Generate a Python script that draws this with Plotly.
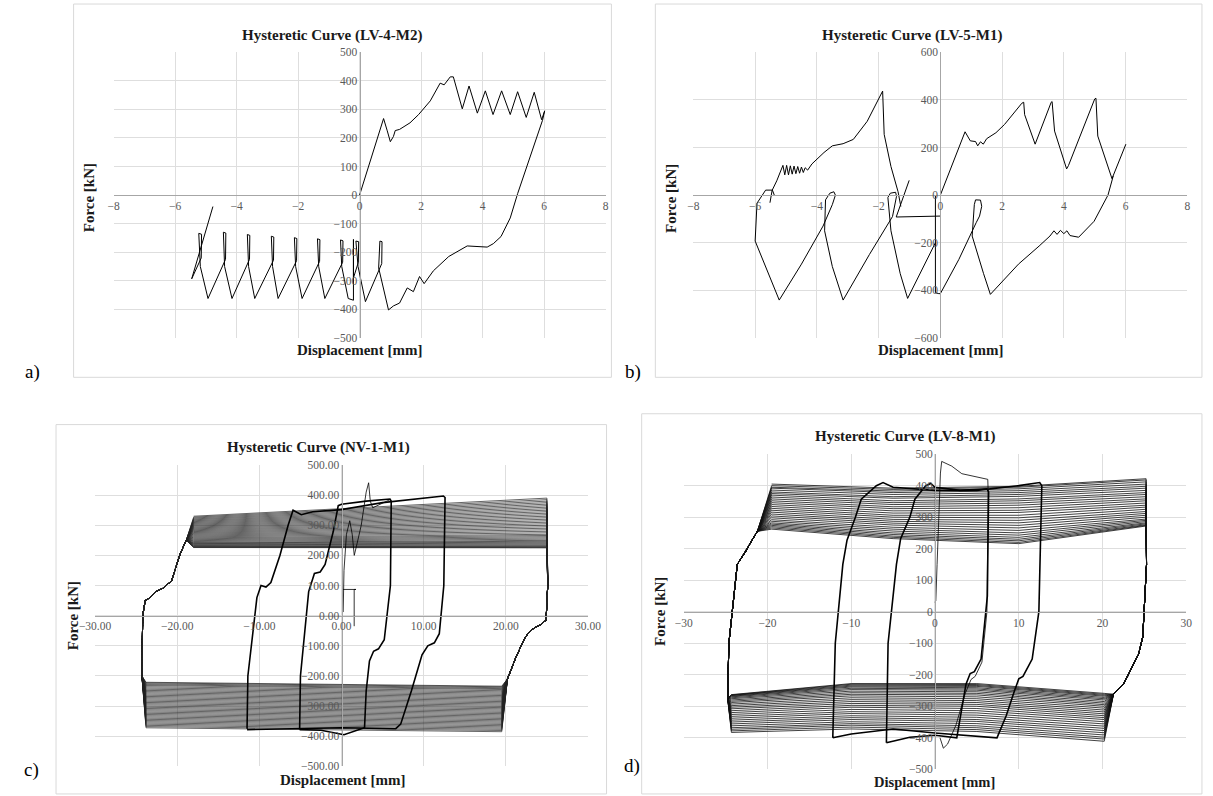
import plotly.graph_objects as go

# ======================= DATA =======================
# Panel a) LV-4 : displacement [mm], force [kN]
a_curve = [(0, 0), (0.3, 100), (0.78, 268), (0.9, 225), (1.0, 187), (1.1, 205), (1.16, 226), (1.3, 230),
           (1.64, 253), (1.92, 282), (2.3, 330), (2.62, 392), (2.75, 386), (2.95, 414), (3.05, 414),
           (3.34, 302), (3.56, 382), (3.83, 287), (4.09, 365), (4.34, 282), (4.62, 365), (4.9, 282),
           (5.14, 362), (5.42, 272), (5.68, 360), (5.92, 264), (6.02, 295),
           (5.95, 262), (5.6, 150), (5.3, 60), (5.14, 5), (4.9, -80), (4.75, -115), (4.6, -145),
           (4.35, -170), (4.15, -182), (3.5, -178), (2.9, -215), (2.4, -265), (2.1, -310), (1.95, -285),
           (1.75, -338), (1.55, -325), (1.3, -378), (1.1, -388), (0.94, -402),
           (0.62, -255), (0.66, -161), (0.73, -163), (0.72, -240), (0.19, -373),
           (-0.05, -250), (-0.12, -161), (-0.03, -163), (-0.04, -235), (-0.2, -290), (-0.2, -155), (-0.2, -368), (-0.37, -362),
           (-0.58, -250), (-0.62, -157), (-0.54, -160), (-0.55, -235), (-1.13, -362),
           (-1.33, -250), (-1.37, -153), (-1.29, -156), (-1.30, -232), (-1.87, -362),
           (-2.08, -250), (-2.12, -149), (-2.04, -152), (-2.05, -230), (-2.65, -362),
           (-2.83, -250), (-2.87, -144), (-2.79, -147), (-2.80, -228), (-3.41, -362),
           (-3.61, -250), (-3.65, -138), (-3.57, -141), (-3.58, -225), (-4.15, -362),
           (-4.39, -250), (-4.43, -130), (-4.35, -133), (-4.36, -225), (-4.93, -362),
           (-5.18, -250), (-5.23, -134), (-5.14, -137), (-5.15, -220), (-5.46, -293), (-4.77, -40)]

# Panel b) LV-5
b_load = [(0, 0), (0.8, 266), (0.97, 228), (1.14, 225), (1.21, 207), (1.3, 224), (1.39, 214), (1.5, 237),
          (1.8, 262), (2.08, 297), (2.64, 386), (2.7, 390), (2.73, 338), (3.07, 214), (3.59, 390), (3.62, 393),
          (3.7, 269), (4.09, 110), (4.15, 124), (5.0, 404), (5.04, 407), (5.1, 248), (5.56, 69), (6.01, 214)]
b_unload = [(5.6, 80), (5.43, 0), (4.98, -110), (4.48, -177), (4.2, -170), (4.1, -150), (4.0, -162), (3.89, -148),
            (3.78, -165), (3.68, -150), (3.55, -172), (3.2, -214), (2.53, -290), (1.62, -417), (1.4, -330),
            (1.03, -172), (1.1, -40), (1.14, -20), (1.3, -21), (1.34, -47), (1.27, -88), (1.16, -116),
            (0.6, -270), (0.0, -414)]
b_vertical = [(-0.16, -2), (-0.16, -410), (-0.05, -414), (0.0, -414)]
b_negative = [(-0.16, -200), (-1.06, -434), (-1.3, -330), (-1.6, -150), (-1.7, -10), (-1.62, 8), (-1.45, 12),
              (-1.42, -5), (-1.55, -90), (-2.3, -250), (-3.15, -441), (-3.5, -300), (-3.75, -150), (-3.72, -20),
              (-3.58, 8), (-3.45, 14), (-3.4, 0), (-3.5, -40), (-3.8, -130), (-4.5, -290), (-5.22, -441),
              (-6.0, -193), (-5.94, -34), (-5.66, 21), (-5.44, 21), (-5.38, 0)]
b_flat = [(0.02, -88), (-1.43, -92), (-1.01, 62)]
b_reload = [(-5.52, -32), (-5.45, 20), (-5.3, 60), (-5.16, 103), (-5.1, 125), (-5.04, 85), (-4.98, 125), (-4.92, 85),
            (-4.86, 123), (-4.8, 88), (-4.74, 122), (-4.68, 90), (-4.62, 120), (-4.56, 92), (-4.5, 118),
            (-4.44, 95), (-4.38, 115), (-4.3, 105), (-4.16, 131), (-3.77, 179), (-3.5, 207), (-3.15, 216),
            (-2.82, 234), (-2.37, 310), (-1.87, 437), (-1.82, 255), (-1.6, 120), (-1.37, 14), (-1.28, -48)]

# Panel c) NV-1 : large cycles (force at each branch end, one value per cycle)
c_up_left = [330, 327, 324, 321, 318, 315, 312, 309, 306, 303, 300, 297, 294, 291, 288, 285, 282, 279, 276, 273,
             270, 267, 264, 261, 258, 255, 252, 249, 246, 243, 241, 239, 237, 235, 233, 231, 229, 228, 227, 226]
c_up_right = [390, 385, 380, 375, 370, 365, 360, 355, 350, 345, 340, 335, 330, 325, 320, 315, 310, 305, 300, 295,
              290, 285, 280, 275, 270, 266, 262, 258, 254, 250, 247, 244, 241, 238, 235, 232, 230, 228, 226, 225]
c_lo_right = [-385, -381, -377, -373, -369, -365, -361, -357, -353, -349, -345, -341, -337, -333, -329, -325, -321,
              -317, -313, -309, -305, -301, -297, -293, -289, -285, -281, -277, -273, -269, -265, -261, -257, -253,
              -249, -245, -242, -239, -236, -234]
c_lo_left = [-372, -368, -364, -360, -356, -352, -348, -344, -340, -336, -332, -328, -324, -320, -316, -312, -308,
             -304, -300, -296, -292, -288, -284, -280, -276, -272, -268, -264, -260, -256, -252, -248, -244, -240,
             -236, -232, -229, -226, -223, -221]
c_branch_x = [-18.0, 25.0, 19.5, -23.8]          # displacement where the branch values above are read
c_right_drop = [(25.1, 100), (24.9, -15), (24.2, -30), (23.5, -40), (22.8, -55), (22.2, -80), (21.2, -140), (20.2, -210)]
c_left_rise = [(-24.3, -200), (-24.2, 0), (-23.9, 50), (-23.3, 60), (-22.6, 80), (-21.8, 90), (-20.7, 115), (-19.6, 208), (-18.9, 250)]
c_cycle12 = [(-11.5, -375), (-11.4, -200), (-10.3, 60), (-9.8, 100), (-9.2, 95), (-8.6, 110), (-7.5, 200), (-6.5, 300),
             (-5.9, 350), (-4.9, 335), (-3.5, 345), (0, 352), (5, 375), (10, 390), (12.4, 397), (12.6, 392),
             (12.45, 100), (11.9, -60), (11.3, -90), (10.5, -100), (9.8, -130), (8.5, -250), (7.2, -360),
             (6.6, -375), (0, -372), (-11.5, -378)]
c_cycle6 = [(-5.1, -378), (-5.0, -200), (-4.0, 80), (-3.3, 140), (-2.6, 145), (-2.0, 170), (-1.0, 280), (-0.4, 365),
            (0, 370), (3, 380), (5.9, 387), (6.05, 380), (5.95, 100), (5.2, -80), (4.5, -110), (3.9, -118),
            (3.4, -150), (3.0, -250), (2.8, -372), (0.3, -395), (-2.5, -380), (-5.1, -378)]
c_initial = [(0.2, 12), (0.3, 150), (0.6, 270), (1.0, 315), (1.3, 270), (1.55, 200), (1.9, 240), (2.4, 300),
             (3.0, 410), (3.3, 441), (3.5, 380), (3.8, 358), (5.9, 385)]
c_box = [(0.1, 87), (1.76, 87), (1.54, 87), (1.54, -35)]

# Panel d) LV-8 : large cycles, upper branch read at d_up_x, lower branch read at d_lo_x
d_up_x = [-19.5, -5, 10, 25.2]
d_up = [[405, 392, 398, 422], [400, 388, 395, 418], [395, 383, 390, 412], [392, 378, 384, 405],
        [386, 372, 378, 398], [380, 365, 372, 392], [375, 360, 366, 385], [370, 352, 358, 378],
        [364, 346, 352, 372], [358, 340, 345, 365], [352, 333, 338, 358], [346, 327, 330, 352],
        [340, 320, 322, 345], [334, 313, 315, 338], [328, 306, 306, 332], [322, 300, 298, 325],
        [316, 293, 290, 318], [310, 287, 282, 312], [304, 281, 274, 306], [298, 275, 266, 300],
        [292, 268, 258, 294], [287, 262, 250, 290], [282, 256, 243, 286], [278, 250, 236, 282],
        [274, 245, 230, 279], [270, 240, 225, 276], [266, 236, 220, 274], [262, 232, 216, 272]]
d_lo_x = [20.2, 5, -10, -24.3]
d_lo = [[-411, -380, -372, -383], [-404, -374, -366, -378], [-398, -368, -360, -373], [-391, -362, -355, -368],
        [-384, -355, -349, -362], [-377, -348, -342, -356], [-370, -342, -336, -350], [-363, -335, -330, -344],
        [-356, -328, -323, -338], [-349, -321, -317, -332], [-342, -314, -310, -326], [-336, -307, -303, -320],
        [-330, -300, -297, -314], [-324, -294, -291, -308], [-318, -288, -285, -303], [-312, -282, -279, -298],
        [-306, -276, -273, -293], [-300, -270, -267, -288], [-295, -264, -262, -284], [-290, -259, -257, -280],
        [-285, -254, -252, -276], [-280, -249, -247, -273], [-276, -245, -243, -270], [-272, -241, -239, -268],
        [-268, -237, -236, -266], [-265, -234, -233, -265], [-262, -231, -230, -264], [-259, -228, -228, -263]]
d_right_drop = [(25.25, 150), (24.8, -80), (24.3, -135), (23.8, -160), (23.4, -185), (23.0, -205), (22.5, -230), (21.3, -262)]
d_left_rise = [(-24.75, -275), (-24.6, -100), (-23.6, 150), (-23.0, 175), (-22.5, 195), (-22.0, 220), (-21.2, 255)]
d_cycle12 = [(-12.2, -400), (-11.9, -100), (-11.0, 150), (-10.5, 227), (-9.5, 300), (-8.8, 357), (-7.0, 400),
             (-6.2, 410), (-5.0, 395), (0, 385), (5, 385), (10, 400), (12.5, 410), (12.75, 400), (12.4, 0),
             (11.6, -150), (10.5, -205), (10.0, -213), (9.5, -250), (8.5, -330), (7.4, -400), (0, -385),
             (-5, -372), (-10, -388), (-12.2, -400)]
d_cycle6 = [(-5.8, -416), (-5.6, -100), (-4.6, 150), (-4.1, 232), (-3.0, 300), (-2.4, 357), (-1.1, 400), (-0.5, 407),
            (0, 395), (3, 385), (6.2, 390), (6.4, 380), (6.25, 50), (5.5, -150), (4.7, -190), (4.2, -196),
            (3.7, -230), (3.0, -330), (2.6, -400), (0, -392), (-3, -398), (-5.8, -416)]
d_initial = [(0.0, 30), (0.1, 35), (0.25, 150), (0.45, 330), (0.65, 440), (0.8, 477), (2.0, 462), (3.2, 438),
             (5.0, 428), (6.3, 420), (6.35, 380), (6.2, 0), (5.6, -160), (4.8, -205), (4.3, -215), (3.6, -260),
             (2.5, -360), (1.5, -420), (1.0, -433), (0.6, -400)]

titles = ["Hysteretic Curve (LV-4-M2)", "Hysteretic Curve (LV-5-M1)",
          "Hysteretic Curve (NV-1-M1)", "Hysteretic Curve (LV-8-M1)"]
panel_tags = ["a)", "b)", "c)", "d)"]

# ======================= BUILD =======================
W, H = 1213, 796
def px(x): return x / W
def py(y): return 1 - y / H

# plot-area geometry in pixels: (left, right, top, bottom), ranges, dticks, tickformat
geo = [
    dict(l=100, r=604, t=47, b=337, xr=[-8, 8], yr=[-500, 500], dx=2, dy=100, fmt=None),
    dict(l=694, r=1200, t=47, b=337, xr=[-8, 8], yr=[-600, 600], dx=2, dy=200, fmt=None),
    dict(l=81, r=586, t=466, b=772, xr=[-30, 30], yr=[-500, 500], dx=10, dy=100, fmt=".2f"),
    dict(l=684, r=1199, t=455, b=775, xr=[-30, 30], yr=[-500, 500], dx=10, dy=100, fmt=None),
]

fig = go.Figure()
SERIF = "Liberation Serif"

def add(points, k, width=1.0, color="black"):
    xs = [p[0] for p in points]
    ys = [p[1] for p in points]
    fig.add_trace(go.Scatter(x=xs, y=ys, mode="lines", line=dict(color=color, width=width),
                             xaxis="x" if k == 0 else f"x{k+1}", yaxis="y" if k == 0 else f"y{k+1}",
                             showlegend=False, hoverinfo="skip"))

# a)
add(a_curve, 0)
# b)
for seg in [b_load, b_unload, b_vertical, b_negative, b_flat, b_reload]:
    add(seg, 1)

# c) large cycles as one continuous path
c_path = []
for ul, ur, lr, ll in zip(c_up_left, c_up_right, c_lo_right, c_lo_left):
    c_path += [(c_branch_x[0], ul), (c_branch_x[1], ur)]
    c_path += c_right_drop
    c_path += [(c_branch_x[2], lr), (c_branch_x[3], ll)]
    c_path += c_left_rise
add(c_path, 2, width=0.7, color="#222222")
add(c_cycle12, 2, width=1.6)
add(c_cycle6, 2, width=1.6)
add(c_initial, 2, width=0.8)
add(c_box, 2, width=0.8)

# d) large cycles
d_path = []
for up, lo in zip(d_up, d_lo):
    d_path += list(zip(d_up_x, up))
    d_path += d_right_drop
    d_path += list(zip(d_lo_x, lo))
    d_path += d_left_rise
add(d_path, 3, width=0.8, color="#111111")
add(d_cycle12, 3, width=1.6)
add(d_cycle6, 3, width=1.6)
add(d_initial, 3, width=0.8)

layout = dict(width=W, height=H, margin=dict(l=0, r=0, t=0, b=0),
              paper_bgcolor="white", plot_bgcolor="white", showlegend=False)
tickfont = dict(family=SERIF, size=11.5, color="#595959")
annotations = []
for k, g in enumerate(geo):
    xname = "xaxis" if k == 0 else f"xaxis{k+1}"
    yname = "yaxis" if k == 0 else f"yaxis{k+1}"
    y0_px = g["t"] + (g["b"] - g["t"]) * (g["yr"][1] - 0) / (g["yr"][1] - g["yr"][0])
    x0_px = g["l"] + (g["r"] - g["l"]) * (0 - g["xr"][0]) / (g["xr"][1] - g["xr"][0])
    layout[xname] = dict(domain=[px(g["l"]), px(g["r"])], range=g["xr"], dtick=g["dx"], tick0=0,
                         anchor="free", position=py(y0_px), showline=True, linecolor="#a6a6a6",
                         linewidth=1, showgrid=True, gridcolor="#dedede", zeroline=False,
                         ticks="", tickfont=tickfont, tickformat=g["fmt"], fixedrange=True)
    layout[yname] = dict(domain=[py(g["b"]), py(g["t"])], range=g["yr"], dtick=g["dy"], tick0=0,
                         anchor="free", position=px(x0_px), showline=True, linecolor="#a6a6a6",
                         linewidth=1, showgrid=True, gridcolor="#dedede", zeroline=False,
                         ticks="", tickfont=tickfont, tickformat=g["fmt"], fixedrange=True)

# text positions (pixels)
title_pos = [(324, 30), (918, 30), (310, 448), (911, 437)]
force_pos = [(75, 195), (671, 195), (58, 619), (660, 615)]
disp_pos = [(352, 349), (947, 349), (334, 786), (941, 788)]
disp_size = [15, 15, 15, 14.5]
tag_pos = [(17, 372), (632, 372), (16, 776), (631, 772)]
for k in range(4):
    annotations.append(dict(text=f"<b>{titles[k]}</b>", x=px(title_pos[k][0]), y=py(title_pos[k][1]),
                            xref="paper", yref="paper", showarrow=False, xanchor="center", yanchor="middle",
                            font=dict(family=SERIF, size=15, color="#1a1a1a")))
    annotations.append(dict(text="<b>Force [kN]</b>", x=px(force_pos[k][0]), y=py(force_pos[k][1]),
                            xref="paper", yref="paper", showarrow=False, textangle=-90,
                            xanchor="center", yanchor="middle",
                            font=dict(family=SERIF, size=15, color="#1a1a1a")))
    annotations.append(dict(text="<b>Displacement [mm]</b>", x=px(disp_pos[k][0]), y=py(disp_pos[k][1]),
                            xref="paper", yref="paper", showarrow=False, xanchor="center", yanchor="middle",
                            font=dict(family=SERIF, size=disp_size[k], color="#1a1a1a")))
    annotations.append(dict(text=panel_tags[k], x=px(tag_pos[k][0]), y=py(tag_pos[k][1]),
                            xref="paper", yref="paper", showarrow=False, xanchor="center", yanchor="middle",
                            font=dict(family=SERIF, size=19, color="black")))
layout["annotations"] = annotations

frames = [(59, -2, 610, 377), (655, -2, 1215, 377), (41, 425, 605, 800), (641, 414, 1215, 800)]
layout["shapes"] = [dict(type="rect", xref="paper", yref="paper", x0=px(f[0]), x1=px(f[2]),
                         y0=py(f[3]), y1=py(f[1]), line=dict(color="#d9d9d9", width=1), layer="below")
                    for f in frames]

fig.update_layout(**layout)
fig.write_html("out.html", config={"displayModeBar": False},
               post_script="document.body.style.margin='0';document.body.style.overflow='hidden';")
